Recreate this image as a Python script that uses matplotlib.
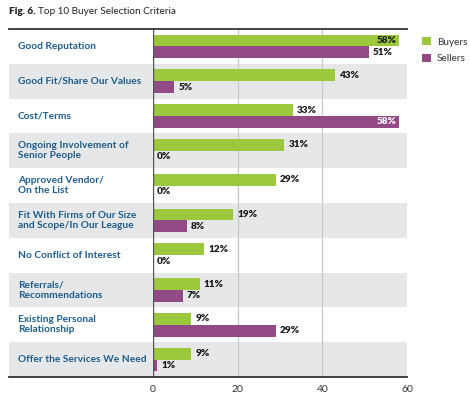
import matplotlib
matplotlib.use("Agg")
import matplotlib.pyplot as plt
from matplotlib.patches import Rectangle, Patch
import matplotlib.transforms as mtransforms

categories = ["Good Reputation", "Good Fit/Share Our Values", "Cost/Terms",
              "Ongoing Involvement of\nSenior People", "Approved Vendor/\nOn the List",
              "Fit With Firms of Our Size\nand Scope/In Our League", "No Conflict of Interest",
              "Referrals/\nRecommendations", "Existing Personal\nRelationship",
              "Offer the Services We Need"]
buyers = [58, 43, 33, 31, 29, 19, 12, 11, 9, 9]
sellers = [51, 5, 58, 0, 0, 8, 0, 7, 29, 1]
xticks = [0, 20, 40, 60]

GREEN = "#9BC83C"
PURPLE = "#924A87"
BAND = "#E6E7E8"
LABEL = "#1E5D8C"
FONT = "Lato"

W, H = 470, 396
fig = plt.figure(figsize=(W / 100, H / 100), dpi=100)
ax = fig.add_axes([153 / W, 1 - 377 / H, (407 - 153) / W, (377 - 29) / H])

n = len(categories)
ax.set_xlim(0, 60)
ax.set_ylim(n - 0.5, -0.5)

trans = mtransforms.blended_transform_factory(ax.transAxes, ax.transData)
left_ext = -(153 - 9) / (407 - 153)
for i in range(n):
    if i % 2 == 1:
        ax.add_patch(Rectangle((left_ext, i - 0.5), 1 - left_ext, 1.0, transform=trans,
                               facecolor=BAND, edgecolor="none", clip_on=False, zorder=0))

for x in [20, 40]:
    ax.axvline(x, color="#C8C8C8", lw=0.9, zorder=1)
ax.axvline(0, color="#555555", lw=1.0, zorder=3)

bh = 0.34
yb = [i - 0.17 for i in range(n)]
ys = [i + 0.17 for i in range(n)]
ax.barh(yb, buyers, height=bh, color=GREEN, zorder=2)
ax.barh(ys, sellers, height=bh, color=PURPLE, zorder=2)

for i in range(n):
    for val, y, inside_col in [(buyers[i], yb[i], "#1a1a1a"), (sellers[i], ys[i], "white")]:
        if val >= 55:
            ax.text(val - 0.4, y, f"{val}%", ha="right", va="center", fontsize=7.2,
                    fontweight="heavy", color=inside_col, family=FONT, zorder=4)
        else:
            ax.text(val + 1.0, y, f"{val}%", ha="left", va="center", fontsize=7.2,
                    fontweight="heavy", color="#1a1a1a", family=FONT, zorder=4)
    ax.text(left_ext + 9 / 254, i, categories[i], transform=trans, ha="left", va="center",
            fontsize=7.3, fontweight="bold", color=LABEL, family=FONT,
            linespacing=1.15, zorder=4)

# top and bottom rules
for yy in [-0.5, n - 0.5]:
    ax.plot([left_ext, 1], [yy, yy], transform=trans, color="#333333", lw=1.3,
            clip_on=False, zorder=5)

for s in ax.spines.values():
    s.set_visible(False)
ax.set_yticks([])
ax.set_xticks(xticks)
ax.set_xticklabels([str(t) for t in xticks], fontsize=7.5, color="#333333", family=FONT)
ax.tick_params(axis="x", length=0, pad=6)

t1 = fig.text(9 / W, 1 - 11 / H, "Fig. 6.", fontsize=7.2, fontweight="heavy", color="#222222",
              family=FONT, va="center", ha="left")
fig.canvas.draw()
fig.text(0, 0, "Top 10 Buyer Selection Criteria", fontsize=7.2, color="#222222",
         family=FONT, va="center", ha="left",
         transform=mtransforms.offset_copy(fig.transFigure, fig=fig, x=0, y=0))
bb = t1.get_window_extent()
fig.texts[-1].set_position(((bb.x1 + 3) / W, 1 - 11 / H))

handles = [Patch(facecolor=GREEN, label="Buyers"), Patch(facecolor=PURPLE, label="Sellers")]
fig.legend(handles=handles, loc="upper left", bbox_to_anchor=(413 / W, 1 - 28 / H),
           frameon=False, prop={"family": FONT, "size": 7.2}, handlelength=0.9,
           handleheight=0.9, handletextpad=0.6, labelspacing=0.7, labelcolor="#333333")

fig.savefig("out.png", dpi=100)
